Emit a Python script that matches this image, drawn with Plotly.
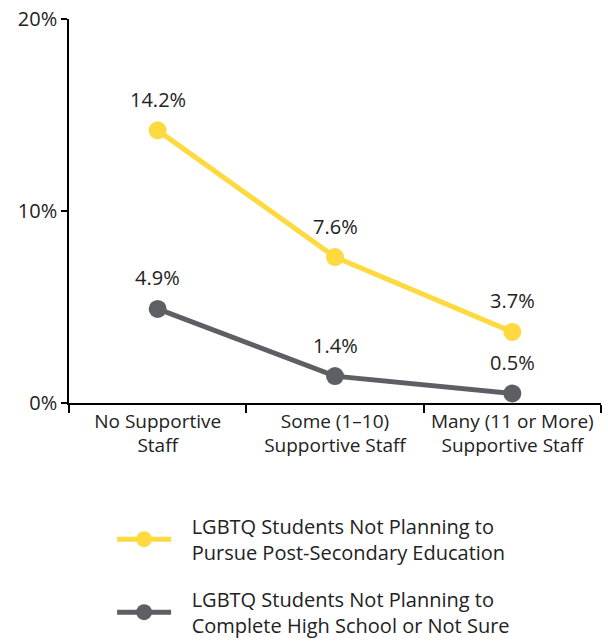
import plotly.graph_objects as go

categories = ["No Supportive<br>Staff", "Some (1\u201310)<br>Supportive Staff", "Many (11 or More)<br>Supportive Staff"]
not_postsecondary = [14.2, 7.6, 3.7]
not_highschool = [4.9, 1.4, 0.5]
series_names = [
    "LGBTQ Students Not Planning to<br>Pursue Post-Secondary Education",
    "LGBTQ Students Not Planning to<br>Complete High School or Not Sure",
]
y_ticks = [0, 10, 20]
y_tick_labels = ["0%", "10%", "20%"]

YELLOW = "#FFD940"
GRAY = "#5E5F64"
FONT = "Open Sans, Arial, sans-serif"
PAD = "&nbsp;&nbsp;&nbsp;"  # gap between legend symbol and its text


def legend_label(text):
    return "<br>".join(PAD + part for part in text.split("<br>"))


fig = go.Figure()
for vals, name, color, grp in [
    (not_postsecondary, series_names[0], YELLOW, "a"),
    (not_highschool, series_names[1], GRAY, "b"),
]:
    fig.add_trace(go.Scatter(
        x=categories, y=vals, name=legend_label(name), legendgroup=grp,
        mode="lines+markers",
        line=dict(color=color, width=5),
        marker=dict(color=color, size=18),
        cliponaxis=False,
    ))
    for c, v in zip(categories, vals):
        fig.add_annotation(x=c, y=v, text=f"{v:.1f}%", showarrow=False,
                           yshift=31, font=dict(size=20, color="#222222", family=FONT))

fig.update_layout(
    width=608, height=641,
    margin=dict(l=69, r=7, t=19, b=238, autoexpand=False),
    paper_bgcolor="white", plot_bgcolor="white",
    font=dict(family=FONT, size=20, color="#222222"),
    showlegend=True,
    legend=dict(orientation="v", x=0.081, xanchor="left", y=-0.27, yanchor="top",
                itemwidth=54, tracegroupgap=18, font=dict(size=20)),
)
fig.update_xaxes(
    type="category", range=[-0.5, 2.5], showline=True, linecolor="black", linewidth=1.5,
    ticks="outside", tickson="boundaries", ticklen=8, tickcolor="black", tickwidth=1.5,
    tickangle=0, tickfont=dict(size=19),
    showgrid=False, zeroline=False,
)
fig.update_yaxes(
    range=[0, 20], tickvals=y_ticks, ticktext=y_tick_labels, showline=True,
    linecolor="black", linewidth=1.5, ticks="outside", ticklen=6, tickcolor="black",
    tickwidth=1.5, showgrid=False, zeroline=False,
)

fig.write_html("out.html")
